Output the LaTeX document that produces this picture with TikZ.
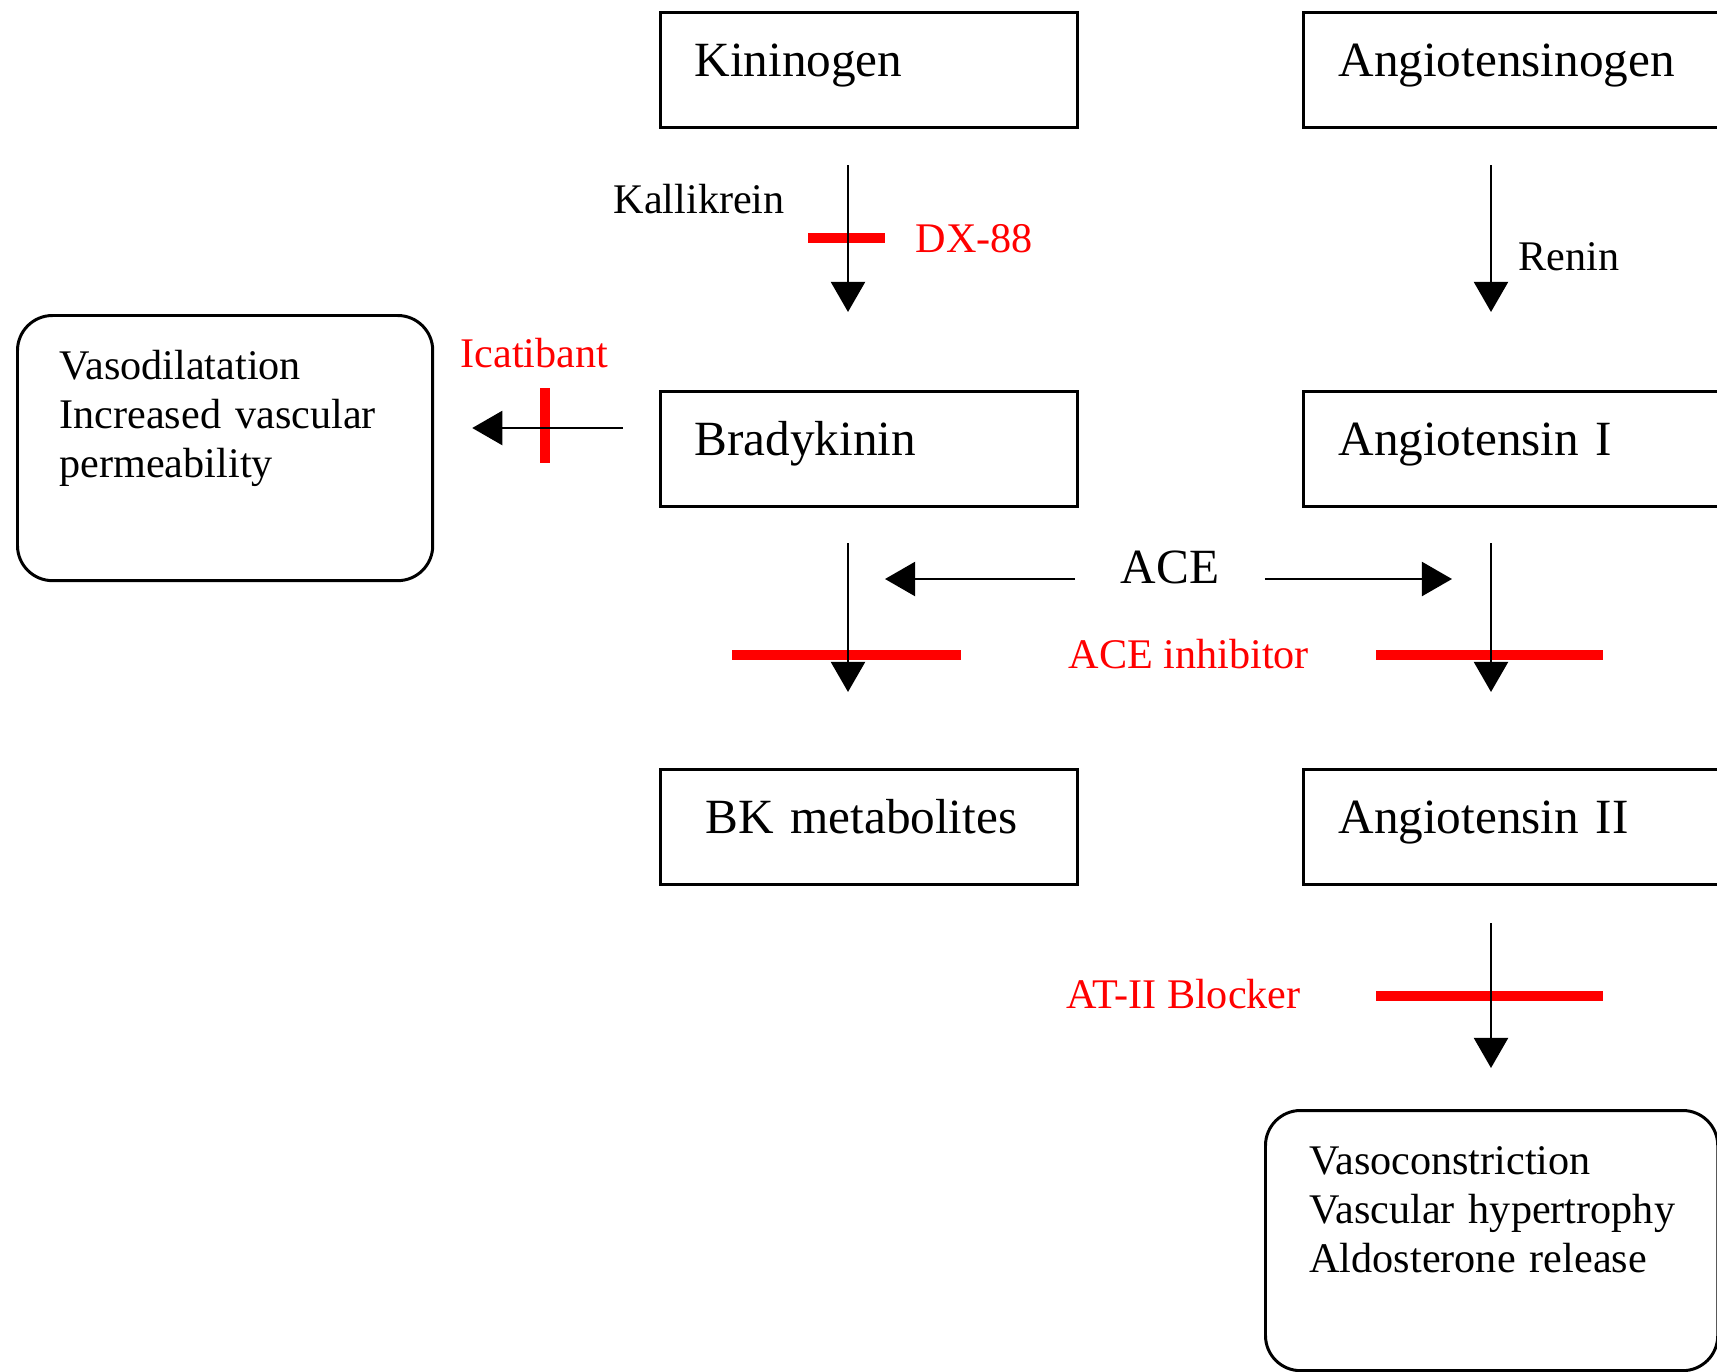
\documentclass[tikz,border=0pt]{standalone}
\usepackage{fontspec}
\setmainfont{Liberation Serif}
\usetikzlibrary{arrows.meta}

\begin{document}
\begin{tikzpicture}[x=0.01cm, y=-0.01cm,
        blok/.style={draw, line width=0.85pt, inner sep=0pt, anchor=north west,
                text width=4.17cm, text height=0.64cm, text depth=0.51cm, align=left,
                font=\fontsize{14pt}{16pt}\selectfont},
        effekt/.style={draw, line width=0.85pt, rounded corners=0.35cm, inner ysep=0pt,
                anchor=north west, align=left, text height=0.64cm,
                font=\fontsize{12pt}{13.9pt}\selectfont},
        strelka/.style={line width=0.6pt, -{Triangle[width=0.34cm, length=0.3cm]}},
        blokator/.style={red, line width=2.6pt},
        podpis/.style={anchor=base west, inner sep=0pt, font=\fontsize{12pt}{14pt}\selectfont},
        lekarstvo/.style={podpis, text=red}]
                \useasboundingbox ( 0, 0 ) rectangle ( 1717, 1372 );
% блоки
                \node [blok] (kin) at ( 659, 11 ) {\hspace*{0.34cm}Kininogen};
                \node [blok] (agt) at ( 1302, 11 ) {\hspace*{0.35cm}Angiotensinogen};
                \node [blok] (bk) at ( 659, 390 ) {\hspace*{0.34cm}Bradykinin};
                \node [blok] (ang1) at ( 1302, 390 ) {\hspace*{0.35cm}Angiotensin I};
                \node [blok] (bkm) at ( 659, 768 ) {\hspace*{0.45cm}BK metabolites};
                \node [blok] (ang2) at ( 1302, 768 ) {\hspace*{0.35cm}Angiotensin II};

% эффекты
                \node [effekt, inner xsep=0.42cm, text width=3.31cm, text depth=2.01cm] (eff1) at ( 16, 314 )
                        {Vasodilatation\\Increased vascular\\permeability};
                \node [effekt, inner xsep=0.44cm, text width=3.64cm, text depth=1.96cm] (eff2) at ( 1264, 1109 )
                        {Vasoconstriction\\\mbox{Vascular hypertrophy}\\Aldosterone release};

% ингибиторы
                \draw [blokator] ( 808, 238 ) -- ( 885, 238 );
                \draw [blokator] ( 545, 388 ) -- ( 545, 463 );
                \draw [blokator] ( 732, 655 ) -- ( 961, 655 );
                \draw [blokator] ( 1376, 655 ) -- ( 1603, 655 );
                \draw [blokator] ( 1376, 996 ) -- ( 1603, 996 );

% стрелки
                \coordinate (kstolb) at ( 848, 0 );
                \coordinate (astolb) at ( 1491, 0 );
                \coordinate (ryad) at ( 0, 428 );
                \draw [strelka, shorten <=0.36cm, shorten >=0.78cm] (kin.south -| kstolb) -- (bk.north -| kstolb);
                \draw [strelka, shorten <=0.36cm, shorten >=0.78cm] (agt.south -| astolb) -- (ang1.north -| astolb);
                \draw [strelka, shorten <=0.35cm, shorten >=0.76cm] (bk.south -| kstolb) -- (bkm.north -| kstolb);
                \draw [strelka, shorten <=0.35cm, shorten >=0.76cm] (ang1.south -| astolb) -- (ang2.north -| astolb);
                \draw [strelka, shorten <=0.37cm, shorten >=0.41cm] (ang2.south -| astolb) -- (eff2.north -| astolb);
                \draw [strelka, shorten <=0.36cm, shorten >=0.38cm] (bk.west |- ryad) -- (eff1.east |- ryad);

% ACE
                \node [inner xsep=0.45cm, inner ysep=0pt, text height=0.35cm, text depth=0.27cm,
                        font=\fontsize{14pt}{16pt}\selectfont] (ace) at ( 1170, 579 ) {ACE};
                \draw [strelka, shorten >=0.37cm] (ace.west) -- (ace.west -| kstolb);
                \draw [strelka, shorten >=0.39cm] (ace.east) -- (ace.east -| astolb);

% подписи
                \node [podpis] (kallikrein) at ( 613, 213 ) {Kallikrein};
                \node [podpis] (renin) at ( 1518, 270 ) {Renin};
                \node [lekarstvo] (dx) at ( 915, 252 ) {DX-88};
                \node [lekarstvo] (icatibant) at ( 460, 367 ) {Icatibant};
                \node [lekarstvo] (acei) at ( 1068, 668 ) {ACE inhibitor};
                \node [lekarstvo] (arb) at ( 1066, 1008 ) {AT-II Blocker};
\end{tikzpicture}
\end{document}
